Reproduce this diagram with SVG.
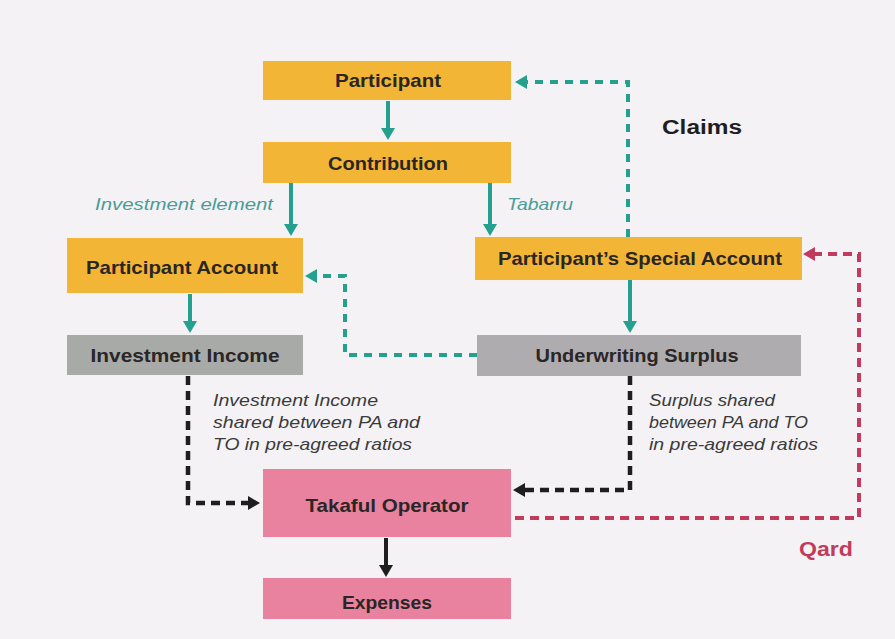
<svg xmlns="http://www.w3.org/2000/svg" width="895" height="639" viewBox="0 0 895 639">
<defs>
<style>
.yel{fill:#f2b535}
.gry1{fill:#a8aaa7}
.gry2{fill:#afacaf}
.pnk{fill:#e8829f}
.nt{font-family:"Liberation Sans",Arial,sans-serif;font-weight:bold;font-size:19px;fill:#2a2626;text-anchor:middle}
.lbl{font-family:"Liberation Sans",Arial,sans-serif;font-style:italic;font-size:17px;fill:#3a3a3a}
.tl{font-family:"Liberation Sans",Arial,sans-serif;font-style:italic;font-size:17px;fill:#4a9c98}
.teal{fill:none;stroke:#23a08e;stroke-width:4}
.tealD{fill:none;stroke:#23a08e;stroke-width:4;stroke-dasharray:8 7}
.blkD{fill:none;stroke:#1e1e1e;stroke-width:4.5;stroke-dasharray:9 6}
.blk{fill:none;stroke:#1e1e1e;stroke-width:4}
.redD{fill:none;stroke:#c23b5c;stroke-width:4;stroke-dasharray:9 6}
</style>
<marker id="aT" markerUnits="userSpaceOnUse" viewBox="0 0 12 14" refX="2" refY="7" markerWidth="12" markerHeight="14" orient="auto"><path d="M0,0 L12,7 L0,14 z" fill="#23a08e"/></marker>
<marker id="aK" markerUnits="userSpaceOnUse" viewBox="0 0 12 14" refX="2" refY="7" markerWidth="12" markerHeight="14" orient="auto"><path d="M0,0 L12,7 L0,14 z" fill="#1e1e1e"/></marker>
<marker id="aR" markerUnits="userSpaceOnUse" viewBox="0 0 12 14" refX="2" refY="7" markerWidth="12" markerHeight="14" orient="auto"><path d="M0,0 L12,7 L0,14 z" fill="#c23b5c"/></marker>
</defs>
<rect x="0" y="0" width="895" height="639" fill="#f4f2f4"/>

<g id="connectors">
<path class="teal" d="M388,101 L388,130" marker-end="url(#aT)"/>
<path class="teal" d="M291,183 L291,226" marker-end="url(#aT)"/>
<path class="teal" d="M490,183 L490,226" marker-end="url(#aT)"/>
<path class="teal" d="M190,294 L190,323" marker-end="url(#aT)"/>
<path class="teal" d="M630,280 L630,323" marker-end="url(#aT)"/>
<path class="tealD" d="M628,237 L628,82 L525,82" marker-end="url(#aT)"/>
<path class="tealD" d="M477,355 L345,355 L345,276 L315,276" marker-end="url(#aT)"/>
<path class="blkD" d="M188,376 L188,503 L250,503" marker-end="url(#aK)"/>
<path class="blkD" d="M630,376 L630,490 L523,490" marker-end="url(#aK)"/>
<path class="redD" d="M515,518 L859,518 L859,254 L813,254" marker-end="url(#aR)"/>
<path class="blk" d="M386,538 L386,567" marker-end="url(#aK)"/>
</g>

<g id="participant">
<rect class="yel" x="263" y="61" width="248" height="39"/>
<text class="nt" x="388" y="87" textLength="106" lengthAdjust="spacingAndGlyphs">Participant</text>
</g>
<g id="contribution">
<rect class="yel" x="263" y="142" width="248" height="41"/>
<text class="nt" x="388" y="170" textLength="120" lengthAdjust="spacingAndGlyphs">Contribution</text>
</g>
<g id="participant-account">
<rect class="yel" x="67" y="238" width="236" height="55"/>
<text class="nt" x="182" y="274" textLength="192" lengthAdjust="spacingAndGlyphs">Participant Account</text>
</g>
<g id="special-account">
<rect class="yel" x="475" y="237" width="327" height="43"/>
<text class="nt" x="640" y="265" textLength="284" lengthAdjust="spacingAndGlyphs">Participant’s Special Account</text>
</g>
<g id="investment-income">
<rect class="gry1" x="67" y="335" width="236" height="40"/>
<text class="nt" x="185" y="362" textLength="189" lengthAdjust="spacingAndGlyphs">Investment Income</text>
</g>
<g id="underwriting-surplus">
<rect class="gry2" x="477" y="335" width="324" height="41"/>
<text class="nt" x="637" y="362" textLength="203" lengthAdjust="spacingAndGlyphs">Underwriting Surplus</text>
</g>
<g id="takaful-operator">
<rect class="pnk" x="263" y="469" width="248" height="68"/>
<text class="nt" x="387" y="512" textLength="163" lengthAdjust="spacingAndGlyphs">Takaful Operator</text>
</g>
<g id="expenses">
<rect class="pnk" x="263" y="578" width="248" height="41"/>
<text class="nt" x="387" y="609" textLength="90" lengthAdjust="spacingAndGlyphs">Expenses</text>
</g>

<g id="labels">
<text x="662" y="134" font-family="Liberation Sans, Arial, sans-serif" font-weight="bold" font-size="20" fill="#1e1e1e" textLength="80" lengthAdjust="spacingAndGlyphs">Claims</text>
<text x="799" y="556" font-family="Liberation Sans, Arial, sans-serif" font-weight="bold" font-size="20" fill="#c23b5c" textLength="54" lengthAdjust="spacingAndGlyphs">Qard</text>
<text class="tl" x="95" y="210" textLength="178" lengthAdjust="spacingAndGlyphs">Investment element</text>
<text class="tl" x="507" y="210" textLength="66" lengthAdjust="spacingAndGlyphs">Tabarru</text>
<text class="lbl" x="213" y="406" textLength="165" lengthAdjust="spacingAndGlyphs">Investment Income</text>
<text class="lbl" x="213" y="428" textLength="207" lengthAdjust="spacingAndGlyphs">shared between PA and</text>
<text class="lbl" x="213" y="450" textLength="199" lengthAdjust="spacingAndGlyphs">TO in pre-agreed ratios</text>
<text class="lbl" x="649" y="406" textLength="126" lengthAdjust="spacingAndGlyphs">Surplus shared</text>
<text class="lbl" x="649" y="428" textLength="159" lengthAdjust="spacingAndGlyphs">between PA and TO</text>
<text class="lbl" x="649" y="450" textLength="169" lengthAdjust="spacingAndGlyphs">in pre-agreed ratios</text>
</g>
</svg>
